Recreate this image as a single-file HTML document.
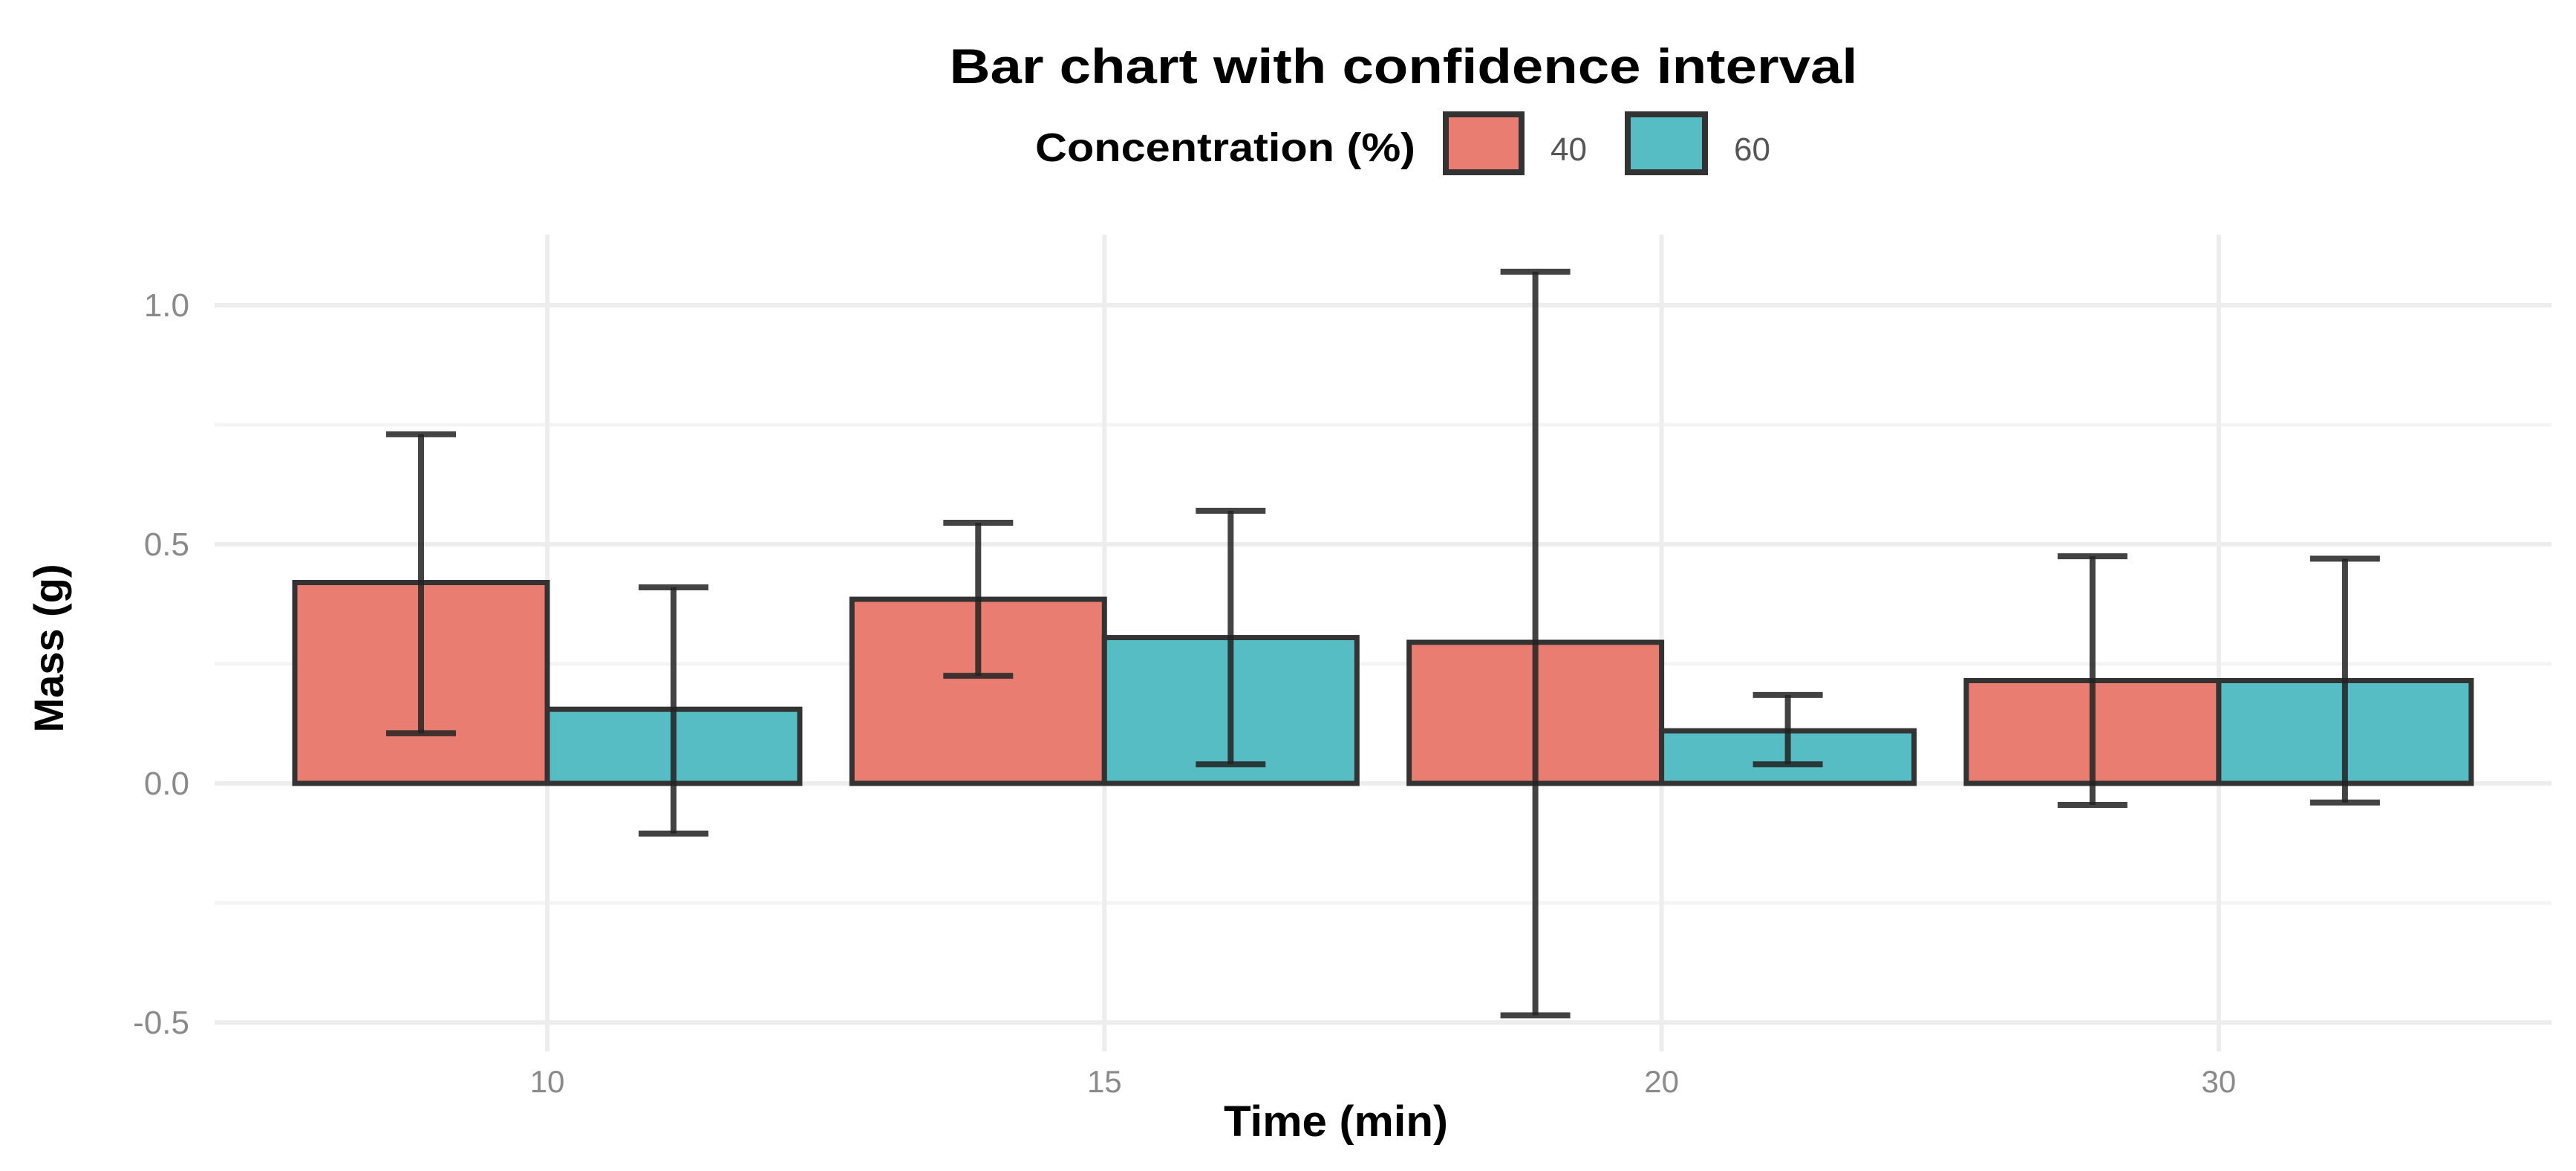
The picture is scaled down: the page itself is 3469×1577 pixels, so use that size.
<!DOCTYPE html>
<html><head><meta charset="utf-8"><style>
html,body{margin:0;padding:0;background:#fff;}
svg{display:block;font-family:"Liberation Sans",sans-serif;}
</style></head><body>
<svg id="chart" width="3469" height="1577" viewBox="0 0 3469 1577" xmlns="http://www.w3.org/2000/svg">
<text x="1890" y="112" text-anchor="middle" font-size="66" font-weight="bold" textLength="1223" lengthAdjust="spacingAndGlyphs" fill="#000">Bar chart with confidence interval</text>
<g>
<text x="1394" y="217" font-size="54" font-weight="bold" textLength="512" lengthAdjust="spacingAndGlyphs">Concentration (%)</text>
<rect x="1947" y="154" width="102" height="78" fill="#E97D72" stroke="#333" stroke-width="8"/>
<text x="2088" y="216" font-size="44" fill="#555">40</text>
<rect x="2192" y="154" width="104" height="78" fill="#55BDC3" stroke="#333" stroke-width="8"/>
<text x="2335" y="216" font-size="44" fill="#555">60</text>
</g>
<g id="grid"></g>
<g id="bars"></g>
<g id="errs"></g>
<g id="axes"></g>
<text x="1799" y="1530" text-anchor="middle" font-size="58" font-weight="bold" textLength="302" lengthAdjust="spacingAndGlyphs">Time (min)</text>
<text transform="translate(85,873) rotate(-90)" text-anchor="middle" font-size="56" font-weight="bold" textLength="227" lengthAdjust="spacingAndGlyphs">Mass (g)</text>
</svg>
<script>
const categories = ["10","15","20","30"];
const series = ["40","60"];
const mean40 = [0.42, 0.385, 0.295, 0.215];
const mean60 = [0.155, 0.305, 0.11, 0.215];
const low40 = [0.105, 0.225, -0.485, -0.045];
const high40 = [0.73, 0.545, 1.07, 0.475];
const low60 = [-0.105, 0.04, 0.04, -0.04];
const high60 = [0.41, 0.57, 0.185, 0.47];
const yMajor = [-0.5, 0, 0.5, 1.0];
const yMajorLabels = ["-0.5","0.0","0.5","1.0"];
const yMinor = [-0.25, 0.25, 0.75];

const NS = "http://www.w3.org/2000/svg";
const panel = {left:289, right:3436, top:316, bottom:1416};
function yScale(v){ return 1055 - v*644; }
function xScale(i){ return 737 + i*750.3; }
const barW = 340, capW = 94;
const colors = ["#E97D72","#55BDC3"];
function mk(tag, attrs, parent){
  const e = document.createElementNS(NS, tag);
  for (const k in attrs) e.setAttribute(k, attrs[k]);
  parent.appendChild(e); return e;
}
const grid = document.getElementById('grid');
yMinor.forEach(v=>{
  const l = mk('line',{x1:panel.left,x2:panel.right,y1:yScale(v),y2:yScale(v),stroke:'#f4f4f4','stroke-width':5},grid);
  
  
});
yMajor.forEach((v,i)=>{
  const l = mk('line',{x1:panel.left,x2:panel.right,y1:yScale(v),y2:yScale(v),stroke:'#ededed','stroke-width':6},grid);
  
  
  const t = mk('text',{x:255,y:yScale(v)+15,'text-anchor':'end','font-size':44,fill:'#8a8a8a'},document.getElementById('axes'));
  t.textContent = yMajorLabels[i];
  
  
});
categories.forEach((c,i)=>{
  const l = mk('line',{x1:xScale(i),x2:xScale(i),y1:panel.top,y2:panel.bottom,stroke:'#ededed','stroke-width':6},grid);
  
  
  const t = mk('text',{x:xScale(i),y:1471,'text-anchor':'middle','font-size':42,fill:'#8a8a8a'},document.getElementById('axes'));
  t.textContent = c;
  
  
});
const means=[mean40,mean60], lows=[low40,low60], highs=[high40,high60];
const bars=document.getElementById('bars'), errs=document.getElementById('errs');
series.forEach((s,si)=>{
  categories.forEach((c,i)=>{
    const x0 = xScale(i) + (si===0 ? -barW : 0);
    const v = means[si][i];
    const yt = Math.min(yScale(v), yScale(0)), h = Math.abs(yScale(v)-yScale(0));
    const r = mk('rect',{x:x0,y:yt,width:barW,height:h,fill:colors[si],stroke:'#333','stroke-width':7},bars);
    
    
    const cx = x0 + barW/2;
    const g = mk('g',{stroke:'#222','stroke-opacity':0.85,'stroke-width':8},errs);
    
    
    mk('line',{x1:cx,x2:cx,y1:yScale(highs[si][i]),y2:yScale(lows[si][i])},g);
    mk('line',{x1:cx-capW/2,x2:cx+capW/2,y1:yScale(highs[si][i]),y2:yScale(highs[si][i])},g);
    mk('line',{x1:cx-capW/2,x2:cx+capW/2,y1:yScale(lows[si][i]),y2:yScale(lows[si][i])},g);
  });
});
</script>
</body></html>
